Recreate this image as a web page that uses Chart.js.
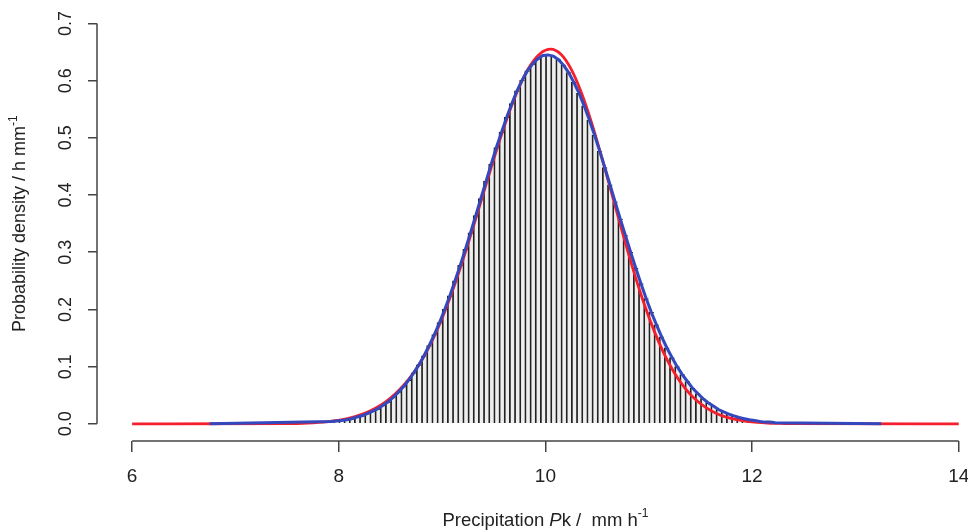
<!DOCTYPE html>
<html>
<head>
<meta charset="utf-8">
<script src="https://cdn.jsdelivr.net/npm/chart.js@4.4.0/dist/chart.umd.min.js"></script>
<style>
  html, body { margin: 0; padding: 0; background: #fff; }
  #wrap { width: 968px; height: 531px; }
</style>
</head>
<body>
<div id="wrap"><canvas id="densityChart"></canvas></div>
<script>
// histogram bins (centres, width 0.05 mm/h) and their density
const binCenters = [
  7.925, 7.975, 8.025, 8.075, 8.125, 8.175, 8.225, 8.275, 8.325, 8.375,
  8.425, 8.475, 8.525, 8.575, 8.625, 8.675, 8.725, 8.775, 8.825, 8.875,
  8.925, 8.975, 9.025, 9.075, 9.125, 9.175, 9.225, 9.275, 9.325, 9.375,
  9.425, 9.475, 9.525, 9.575, 9.625, 9.675, 9.725, 9.775, 9.825, 9.875,
  9.925, 9.975, 10.025, 10.075, 10.125, 10.175, 10.225, 10.275, 10.325, 10.375,
  10.425, 10.475, 10.525, 10.575, 10.625, 10.675, 10.725, 10.775, 10.825, 10.875,
  10.925, 10.975, 11.025, 11.075, 11.125, 11.175, 11.225, 11.275, 11.325, 11.375,
  11.425, 11.475, 11.525, 11.575, 11.625, 11.675, 11.725, 11.775, 11.825, 11.875,
  11.925, 11.975, 12.025, 12.075, 12.125, 12.175, 12.225
];
const histDensity = [
  0.004, 0.005, 0.006, 0.007, 0.009, 0.012, 0.014, 0.018, 0.022, 0.026,
  0.032, 0.038, 0.046, 0.055, 0.065, 0.076, 0.089, 0.103, 0.119, 0.137,
  0.156, 0.177, 0.200, 0.224, 0.250, 0.277, 0.305, 0.334, 0.364, 0.394,
  0.424, 0.454, 0.483, 0.510, 0.536, 0.560, 0.582, 0.601, 0.617, 0.629,
  0.638, 0.644, 0.645, 0.643, 0.637, 0.627, 0.614, 0.597, 0.578, 0.556,
  0.531, 0.505, 0.477, 0.448, 0.418, 0.388, 0.358, 0.329, 0.300, 0.272,
  0.245, 0.219, 0.195, 0.173, 0.152, 0.133, 0.116, 0.100, 0.086, 0.074,
  0.062, 0.053, 0.044, 0.037, 0.031, 0.025, 0.021, 0.017, 0.014, 0.011,
  0.009, 0.007, 0.006, 0.004, 0.003, 0.003, 0.002
];
// blue curve runs flat at zero beyond the bars
const blueTailX = [6.75, 13.25];

// red fitted density
const redX = [
  6, 7.55, 7.65, 7.75, 7.85, 7.95, 8.05, 8.15, 8.25, 8.35, 8.45, 8.55, 8.65, 8.75,
  8.85, 8.95, 9.05, 9.15, 9.25, 9.35, 9.45, 9.55, 9.65, 9.75, 9.85, 9.95, 10.05,
  10.15, 10.25, 10.35, 10.45, 10.55, 10.65, 10.75, 10.85, 10.95, 11.05, 11.15,
  11.25, 11.35, 11.45, 11.55, 11.65, 11.75, 11.85, 11.95, 12.05, 12.15, 12.25, 12.35, 14
];
const redY = [
  0, 0.0006, 0.001, 0.0018, 0.003, 0.005, 0.0078, 0.0122, 0.0185, 0.027, 0.038, 0.053, 0.072, 0.096,
  0.1265, 0.1634, 0.2078, 0.2585, 0.3142, 0.3732, 0.4333, 0.4916, 0.5451, 0.5907, 0.6256, 0.6475, 0.655,
  0.646, 0.6196, 0.578, 0.5245, 0.4628, 0.3973, 0.3316, 0.2693, 0.2127, 0.1634, 0.122,
  0.0886, 0.0626, 0.043, 0.0288, 0.0187, 0.0118, 0.0073, 0.0044, 0.0025, 0.0014, 0.0008, 0.0004, 0
];

const xTicks = [6, 8, 10, 12, 14];
const yTicks = [0, 0.1, 0.2, 0.3, 0.4, 0.5, 0.6, 0.7];
const yTickLabels = ['0.0', '0.1', '0.2', '0.3', '0.4', '0.5', '0.6', '0.7'];

const FONT = '"Liberation Sans", Arial, sans-serif';

const bars = binCenters.map((x, i) => ({ x: x, y: histDensity[i] }));
const blueLine = [{ x: blueTailX[0], y: 0 }].concat(bars, [{ x: blueTailX[1], y: 0 }]);
const redLine = redX.map((x, i) => ({ x: x, y: redY[i] }));

// draws text pieces one after another (italic, superscript)
function drawPieces(ctx, pieces, cx, cy) {
  let total = 0;
  pieces.forEach(p => { ctx.font = p.font; p.w = ctx.measureText(p.t).width; total += p.w; });
  let px = cx - total / 2;
  pieces.forEach(p => {
    ctx.font = p.font;
    ctx.fillText(p.t, px, cy + (p.dy || 0));
    px += p.w;
  });
}

// R style axes: lines only from first to last tick, rotated y labels, titles
const rAxes = {
  id: 'rAxes',
  afterDraw(chart) {
    const { ctx, chartArea, scales: { x, y } } = chart;
    ctx.save();
    ctx.strokeStyle = '#444';
    ctx.lineWidth = 1.5;
    ctx.beginPath();
    ctx.moveTo(x.getPixelForValue(xTicks[0]), chartArea.bottom);
    ctx.lineTo(x.getPixelForValue(xTicks[xTicks.length - 1]), chartArea.bottom);
    ctx.moveTo(chartArea.left, y.getPixelForValue(yTicks[0]));
    ctx.lineTo(chartArea.left, y.getPixelForValue(yTicks[yTicks.length - 1]));
    ctx.stroke();

    ctx.fillStyle = '#222';
    ctx.textAlign = 'center';
    ctx.textBaseline = 'middle';
    ctx.font = '18px ' + FONT;
    yTicks.forEach((v, i) => {
      ctx.save();
      ctx.translate(chartArea.left - 31, y.getPixelForValue(v));
      ctx.rotate(-Math.PI / 2);
      ctx.fillText(yTickLabels[i], 0, 0);
      ctx.restore();
    });

    ctx.textAlign = 'left';
    ctx.textBaseline = 'alphabetic';
    drawPieces(ctx, [
      { t: 'Precipitation ', font: '18.5px ' + FONT },
      { t: 'P', font: 'italic 18.5px ' + FONT },
      { t: 'k /  mm h', font: '18.5px ' + FONT },
      { t: '-1', font: '12px ' + FONT, dy: -9 }
    ], x.getPixelForValue(10), 526);

    ctx.save();
    ctx.translate(19, y.getPixelForValue(0.35));
    ctx.rotate(-Math.PI / 2);
    drawPieces(ctx, [
      { t: 'Probability density / h mm', font: '18px ' + FONT },
      { t: '-1', font: '12px ' + FONT, dy: -8 }
    ], 0, 6);
    ctx.restore();
    ctx.restore();
  }
};

new Chart(document.getElementById('densityChart'), {
  type: 'bar',
  data: {
    datasets: [
      {
        type: 'line',
        data: blueLine,
        borderColor: 'rgb(52, 72, 190)',
        borderWidth: 3,
        pointRadius: 0,
        tension: 0,
        order: 0
      },
      {
        type: 'line',
        data: redLine,
        borderColor: 'rgb(245, 30, 45)',
        borderWidth: 2.8,
        pointRadius: 0,
        cubicInterpolationMode: 'monotone',
        order: 1
      },
      {
        type: 'bar',
        data: bars,
        backgroundColor: '#eeeeee',
        borderColor: '#222',
        borderWidth: { left: 1.8, top: 1, right: 0, bottom: 0 },
        borderSkipped: false,
        barPercentage: 1,
        categoryPercentage: 1,
        order: 2
      }
    ]
  },
  options: {
    responsive: true,
    maintainAspectRatio: false,
    animation: false,
    layout: { padding: { top: 8, right: 1, left: 0, bottom: 0 } },
    plugins: {
      legend: { display: false },
      tooltip: { enabled: false }
    },
    scales: {
      x: {
        type: 'linear',
        offset: false,
        min: 5.66,
        max: 14.08,
        afterBuildTicks: s => { s.ticks = xTicks.map(v => ({ value: v })); },
        afterFit: s => { s.height = 90; s.paddingLeft = 0; s.paddingRight = 0; },
        ticks: {
          autoSkip: false,
          maxRotation: 0,
          padding: 13,
          color: '#222',
          font: { family: FONT, size: 19 },
          callback: v => String(v)
        },
        grid: { offset: false, drawOnChartArea: false, drawTicks: true, tickLength: 11, color: '#444', lineWidth: 1.5 },
        border: { display: false }
      },
      y: {
        min: -0.03,
        max: 0.727,
        afterBuildTicks: s => { s.ticks = yTicks.map(v => ({ value: v })); },
        afterFit: s => { s.width = 97; s.paddingTop = 0; s.paddingBottom = 0; },
        ticks: { display: false },
        grid: { drawOnChartArea: false, drawTicks: true, tickLength: 9, color: '#444', lineWidth: 1.5 },
        border: { display: false }
      }
    }
  },
  plugins: [rAxes]
});
</script>
</body>
</html>
